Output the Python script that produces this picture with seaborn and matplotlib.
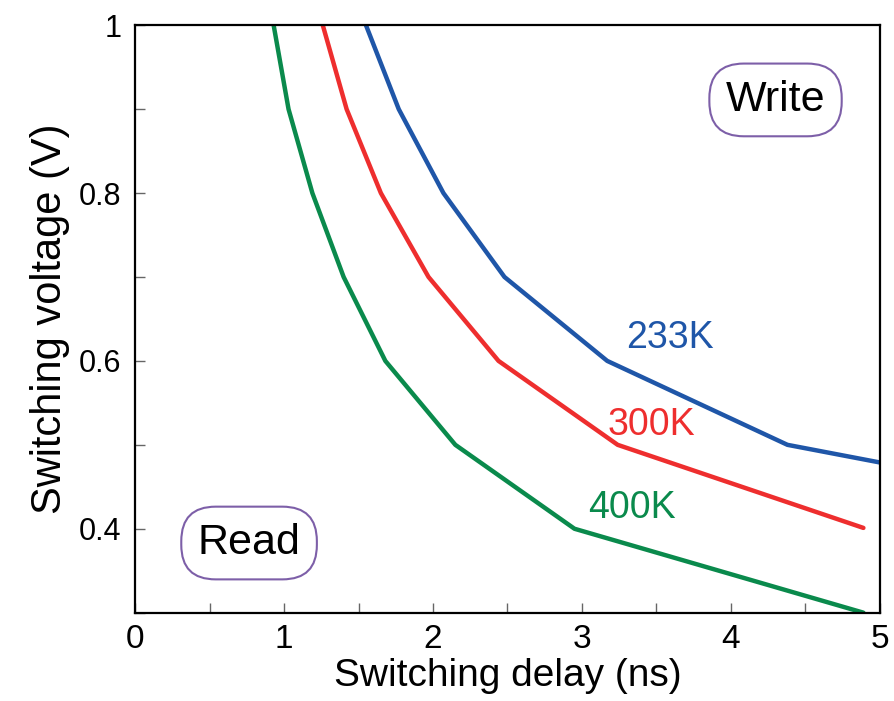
import matplotlib
matplotlib.use("Agg")
import matplotlib.pyplot as plt
from matplotlib.ticker import MultipleLocator
import seaborn as sns
import pandas as pd

temps = ["233K", "300K", "400K"]
v_233 = [1.0, 0.9, 0.8, 0.7, 0.6, 0.5, 0.479]
d_233 = [1.55, 1.77, 2.07, 2.48, 3.17, 4.38, 5.0]
v_300 = [1.0, 0.9, 0.8, 0.7, 0.6, 0.5, 0.401]
d_300 = [1.26, 1.42, 1.65, 1.97, 2.44, 3.24, 4.89]
v_400 = [1.0, 0.9, 0.8, 0.7, 0.6, 0.5, 0.4, 0.30]
d_400 = [0.93, 1.03, 1.19, 1.40, 1.68, 2.15, 2.95, 4.89]
colors = {"233K": "#1f56a8", "300K": "#ee2e2e", "400K": "#0a8a4c"}

frames = []
for t, d, v in [("233K", d_233, v_233), ("300K", d_300, v_300), ("400K", d_400, v_400)]:
    frames.append(pd.DataFrame({"delay": d, "voltage": v, "T": t}))
df = pd.concat(frames, ignore_index=True)

sns.set_theme(style="ticks")
plt.rcParams['font.family'] = ['Liberation Sans', 'DejaVu Sans']
plt.rcParams['text.color'] = 'black'
plt.rcParams['axes.labelcolor'] = 'black'

fig = plt.figure(figsize=(8.95, 7.01), dpi=100)
ax = fig.add_axes([0.151, 0.126, 0.832, 0.838])
sns.lineplot(data=df, x="delay", y="voltage", hue="T", palette=colors,
             linewidth=3.2, ax=ax, legend=False, estimator=None, sort=False)

ax.set_xlim(0, 5)
ax.set_ylim(0.3, 1.0)
ax.xaxis.set_major_locator(MultipleLocator(1))
ax.xaxis.set_minor_locator(MultipleLocator(0.5))
ax.set_yticks([0.4, 0.6, 0.8, 1.0])
ax.set_yticklabels(["0.4", "0.6", "0.8", "1"])
ax.yaxis.set_minor_locator(MultipleLocator(0.1))
ax.tick_params(which="both", direction="in", top=False, right=False, colors="#666666",
               labelcolor="black")
ax.tick_params(which="both", length=7, width=1)
ax.tick_params(axis="y", labelsize=22, pad=10)
ax.tick_params(axis="x", labelsize=24, pad=8)
for s in ax.spines.values():
    s.set_visible(True)
    s.set_linewidth(1.6)
    s.set_color("black")

ax.set_xlabel("Switching delay (ns)", fontsize=28, labelpad=2)
ax.set_ylabel("Switching voltage (V)", fontsize=30, labelpad=6)

ax.text(3.30, 0.627, "233K", color=colors["233K"], fontsize=27, ha="left", va="center")
ax.text(3.17, 0.524, "300K", color=colors["300K"], fontsize=27, ha="left", va="center")
ax.text(3.04, 0.425, "400K", color=colors["400K"], fontsize=27, ha="left", va="center")

box = dict(boxstyle="round,pad=0.38,rounding_size=0.8", fc="white", ec="#7d5fa8", lw=1.5)
ax.text(4.30, 0.911, "Write", fontsize=31, ha="center", va="center", bbox=box)
ax.text(0.765, 0.383, "Read", fontsize=31, ha="center", va="center", bbox=box)

fig.savefig("out.png", dpi=100)
